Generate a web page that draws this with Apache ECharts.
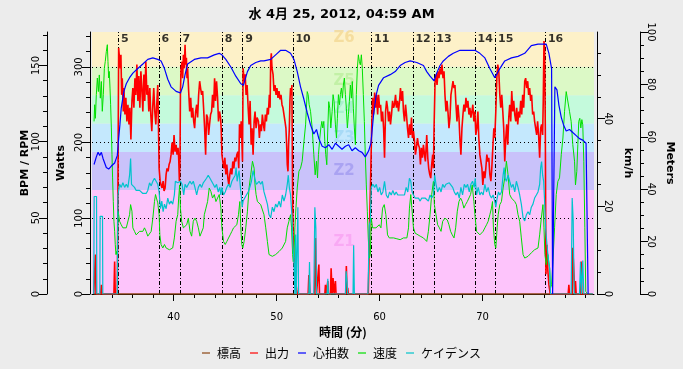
<!DOCTYPE html>
<html><head><meta charset="utf-8">
<script src="https://cdn.jsdelivr.net/npm/echarts@6/dist/echarts.min.js"></script>
<style>html,body{margin:0;padding:0;background:#ececec;}#c{width:683px;height:369px;}</style>
</head><body><div id="c"></div>
<script>
const TITLE = '水 4月 25, 2012, 04:59 AM';
const X_NAME = '時間 (分)';
const X_MIN = 32.06, X_MAX = 80.83;
const X_LABELS = [40, 50, 60, 70];
const X_MINOR = [34,36,38,42,44,46,48,52,54,56,58,62,64,66,68,72,74,76,78,80];
const WATT_MAX = 346, WATT_LABELS = [0,100,200,300];
const WATT_MINOR = [20,40,60,80,120,140,160,180,220,240,260,280,320,340];
const BPM_MAX = 172, BPM_LABELS = [0,50,100,150];
const BPM_MINOR = [10,20,30,40,60,70,80,90,110,120,130,140,160,170];
const KMH_MAX = 59.8, KMH_LABELS = [0,20,40];
const KMH_MINOR = [5,10,15,25,30,35,45,50,55];
const M_MAX = 100, M_LABELS = [0,20,40,60,80,100];
const M_MINOR = [5,10,15,25,30,35,45,50,55,65,70,75,85,90,95];
const GRID_WATTS = [100, 200, 300];
const ZONE_BOUNDS = [0, 137.5, 187.5, 225, 262.5, 300];
const ZONE_NAMES = ['Z1','Z2','Z3','Z4','Z5','Z6'];
const ZONE_FILL = ['#fdc4fb','#c9c2fa','#c4e8fd','#c4fadc','#dcf9c6','#fdf1c8'];
const ZONE_TEXT = ['#f7a2f2','#a29bf0','#a0d6f4','#a0eecb','#bcef9e','#f3d893'];
const LAP_TIMES = [34.64,38.57,40.61,44.71,46.70,51.58,59.22,63.24,65.27,69.27,71.27,76.11];
const LAP_NAMES = ['5','6','7','8','9','10','11','12','13','14','15','16'];
const SERIES_NAMES = ['標高','出力','心拍数','速度','ケイデンス'];
const SERIES_COLORS = ['#8b4513','#ff0000','#0000ff','#00e000','#00c4cc'];

const ALTITUDE = [[32.23,0],[80.71,0]];
const POWER = [[32.23,0],[32.39,52],[32.45,0],[32.90,0],[32.97,12],[33.03,0],[34.19,0],[34.26,43],[34.32,0],[34.52,0],[34.58,140],[34.65,325],[34.74,327],[34.81,298],[34.87,316],[34.94,263],[35.00,285],[35.10,241],[35.16,272],[35.26,237],[35.35,259],[35.45,228],[35.55,250],[35.65,224],[35.74,246],[35.84,204],[35.94,255],[36.03,272],[36.13,246],[36.23,285],[36.32,263],[36.42,303],[36.52,255],[36.61,288],[36.71,246],[36.81,294],[36.90,272],[37.00,241],[37.10,290],[37.19,255],[37.29,307],[37.39,263],[37.48,276],[37.58,241],[37.68,272],[37.77,237],[37.87,215],[37.97,250],[38.06,272],[38.16,241],[38.26,224],[38.35,250],[38.45,276],[38.52,219],[38.58,166],[38.68,149],[38.77,144],[38.87,140],[38.97,149],[39.06,136],[39.16,140],[39.26,158],[39.35,166],[39.45,162],[39.55,171],[39.65,175],[39.74,184],[39.84,200],[39.94,184],[40.03,210],[40.13,188],[40.23,197],[40.32,184],[40.42,193],[40.48,180],[40.55,149],[40.61,175],[40.65,263],[40.71,298],[40.81,307],[40.87,285],[40.94,316],[41.03,298],[41.10,329],[41.16,303],[41.23,312],[41.29,285],[41.35,298],[41.45,268],[41.55,241],[41.65,259],[41.74,233],[41.84,246],[41.94,228],[42.03,219],[42.13,241],[42.23,250],[42.32,233],[42.42,263],[42.52,281],[42.61,272],[42.71,263],[42.81,268],[42.90,246],[43.00,219],[43.10,184],[43.19,237],[43.29,233],[43.39,210],[43.48,224],[43.58,237],[43.68,241],[43.77,263],[43.87,246],[43.97,285],[44.06,255],[44.16,281],[44.26,259],[44.35,228],[44.45,241],[44.55,233],[44.61,219],[44.68,184],[44.77,175],[44.87,166],[44.97,180],[45.06,158],[45.16,171],[45.26,153],[45.35,144],[45.45,158],[45.55,166],[45.65,158],[45.74,175],[45.84,166],[45.94,180],[46.03,175],[46.13,184],[46.23,188],[46.32,166],[46.39,224],[46.48,206],[46.55,228],[46.61,206],[46.68,175],[46.74,298],[46.84,281],[46.94,290],[47.03,263],[47.13,276],[47.23,246],[47.32,224],[47.42,255],[47.52,197],[47.61,219],[47.71,184],[47.81,228],[47.90,241],[48.00,219],[48.10,233],
[48.23,228],[48.32,206],[48.42,224],[48.52,215],[48.61,237],[48.71,224],[48.81,215],[48.90,237],[49.00,228],[49.10,246],[49.19,237],[49.29,263],[49.36,246],[49.42,307],[49.48,318],[49.55,298],[49.65,290],[49.74,268],[49.84,276],[49.94,263],[50.03,272],[50.13,259],[50.23,268],[50.32,257],[50.42,263],[50.52,250],[50.61,246],[50.71,237],[50.81,228],[50.90,219],[50.97,197],[51.03,171],[51.10,162],[51.16,197],[51.23,219],[51.29,255],[51.35,272],[51.42,263],[51.48,276],[51.55,131],[51.61,65],[51.68,48],[51.74,39],[51.84,17],[51.94,6],[52.00,0],[53.06,0],[53.13,25],[53.23,0],[53.68,0],[53.77,74],[53.87,0],[54.03,0],[54.10,39],[54.16,0],[54.68,0],[54.74,12],[54.81,0],[54.90,0],[54.97,17],[55.03,0],[55.23,0],[55.29,34],[55.39,0],[55.48,21],[55.58,0],[55.71,17],[55.77,0],[56.71,0],[56.77,37],[56.84,0],[56.90,8],[56.97,0],[58.90,0],[58.97,43],[59.03,92],[59.13,153],[59.23,219],[59.32,259],[59.42,237],[59.52,266],[59.61,246],[59.71,263],[59.81,237],[59.90,263],[60.00,246],[60.10,250],[60.19,228],[60.29,241],[60.39,219],[60.48,180],[60.58,241],[60.68,255],[60.77,246],[60.87,228],[60.97,241],[61.06,224],[61.16,237],[61.26,255],[61.36,246],[61.45,250],[61.55,263],[61.64,246],[61.74,255],[61.84,241],[61.94,255],[62.03,272],[62.13,255],[62.23,268],[62.32,241],[62.42,228],[62.52,250],[62.61,237],[62.71,219],[62.81,206],[62.90,224],[63.00,210],[63.10,233],[63.19,206],[63.29,215],[63.39,202],[63.48,184],[63.58,193],[63.68,206],[63.77,197],[63.87,193],[63.97,171],[64.06,193],[64.16,180],[64.26,197],[64.36,184],[64.45,175],[64.58,210],
[64.68,180],[64.77,166],[64.87,158],[64.97,153],[65.06,171],[65.16,184],[65.23,166],[65.29,219],[65.39,281],[65.48,290],[65.58,276],[65.68,294],[65.77,285],[65.87,298],[65.97,290],[66.06,303],[66.16,285],[66.26,294],[66.35,263],[66.45,241],[66.55,255],[66.64,241],[66.74,219],[66.84,233],[66.93,263],[67.03,272],[67.13,281],[67.23,272],[67.32,276],[67.42,250],[67.52,228],[67.61,250],[67.71,233],[67.81,202],[67.90,184],[68.00,219],[68.10,237],[68.19,250],[68.29,241],[68.39,259],[68.48,246],[68.58,255],[68.68,237],[68.77,246],[68.87,233],[68.97,241],[69.06,250],[69.16,228],[69.26,241],[69.35,210],[69.45,219],[69.55,241],[69.64,206],[69.74,184],[69.84,175],[69.94,166],[70.03,144],[70.13,162],[70.23,153],[70.32,166],[70.42,184],[70.52,175],[70.61,180],[70.71,158],[70.81,149],[70.90,166],[71.00,193],[71.10,219],[71.19,206],[71.29,241],[71.39,285],[71.48,303],[71.58,294],[71.68,263],[71.77,246],[71.87,263],[71.97,241],[72.06,219],[72.16,175],[72.26,206],[72.35,224],[72.45,197],[72.55,233],[72.64,250],[72.74,228],[72.84,268],[72.94,241],[73.03,255],[73.13,237],[73.23,228],[73.32,246],[73.42,224],[73.52,241],[73.61,233],[73.71,255],[73.81,237],[73.90,263],[74.00,246],[74.10,281],[74.19,285],[74.29,272],[74.39,281],[74.48,263],[74.58,272],[74.68,255],[74.77,263],[74.87,237],[74.97,241],[75.06,228],[75.16,219],[75.26,210],[75.35,228],[75.45,210],[75.55,180],[75.65,219],[75.74,224],[75.84,210],[75.90,255],[75.97,334],[76.03,325],[76.10,219],[76.16,26],[76.26,65],[76.35,30],[76.45,12],[76.58,0],[78.32,0],[78.39,12],[78.45,0],[78.71,0],[78.77,61],[78.87,30],[78.97,0],[79.03,17],[79.10,0],[79.52,0],[79.58,43],[79.65,0],[80.39,0]];
const HEART_RATE = [[32.26,85],[32.48,90],[32.65,93],[32.81,91],[32.97,93],[33.13,89],[33.29,90],[33.45,83],[33.68,82],[33.94,84],[34.26,86],[34.52,91],[34.65,102],[34.77,111],[34.90,122],[35.16,133],[35.39,138],[35.71,142],[36.03,145],[36.51,148],[37.00,151],[37.48,154],[37.97,155],[38.45,154],[38.77,153],[39.10,148],[39.42,141],[39.74,136],[40.23,133],[40.65,132],[40.87,136],[41.10,144],[41.35,151],[42.00,154],[42.65,155],[43.29,155],[43.94,157],[44.42,158],[44.68,157],[45.06,154],[45.55,149],[46.03,143],[46.52,138],[46.77,137],[47.16,146],[47.48,150],[47.97,152],[48.45,153],[48.77,153],[49.42,154],[49.90,157],[50.39,160],[50.87,160],[51.35,158],[51.68,154],[52.00,146],[52.32,136],[52.64,128],[52.97,119],[53.29,111],[53.61,105],[53.87,108],[54.10,102],[54.42,97],[54.74,96],[55.06,98],[55.39,95],[55.71,99],[56.03,97],[56.35,95],[56.68,97],[57.00,98],[57.32,94],[57.64,96],[57.97,94],[58.29,93],[58.61,90],[58.94,94],[59.16,99],[59.42,118],[59.68,131],[59.90,137],[60.39,142],[61.03,144],[61.52,146],[62.00,150],[62.48,152],[62.97,153],[63.61,152],[64.26,150],[64.58,146],[64.90,143],[65.29,140],[65.55,145],[65.87,150],[66.19,153],[66.68,156],[67.16,158],[67.81,160],[68.45,160],[69.26,160],[69.74,158],[70.23,155],[70.71,148],[71.19,142],[71.35,142],[71.68,148],[72.16,153],[72.81,155],[73.45,156],[74.10,158],[74.74,163],[75.39,164],[75.87,164],[76.19,164],[76.45,158],[76.71,148],[76.81,0],[76.94,0],[77.03,136],[77.23,134],[77.42,124],[77.65,116],[77.87,111],[78.13,107],[78.45,108],[78.77,106],[79.10,104],[79.42,102],[79.74,101],[80.06,99],[80.23,99],[80.26,0]];
const SPEED = [[32.26,39.4],[32.32,43.2],[32.39,40.1],[32.48,45.5],[32.58,49.3],[32.68,46.2],[32.77,50.0],[32.87,44.7],[32.97,48.5],[33.06,41.7],[33.16,45.5],[33.26,51.5],[33.35,53.1],[33.45,55.3],[33.55,56.9],[33.61,53.1],[33.68,49.3],[33.74,50.8],[33.81,47.0],[33.87,43.2],[33.94,37.9],[34.00,31.8],[34.06,26.5],[34.13,21.1],[34.19,16.6],[34.26,14.3],[34.32,11.3],[34.39,9.0],[34.45,9.7],[34.52,9.0],[34.58,18.9],[34.65,18.1],[34.74,16.6],[34.90,15.8],[35.06,15.1],[35.23,15.4],[35.39,15.1],[35.55,15.2],[35.71,18.1],[35.81,20.4],[35.94,18.9],[36.03,15.1],[36.19,14.3],[36.35,13.5],[36.52,13.9],[36.68,14.3],[36.84,14.7],[37.00,14.3],[37.16,15.1],[37.32,14.3],[37.48,13.2],[37.65,13.5],[37.81,14.3],[37.97,17.3],[38.13,21.1],[38.23,22.7],[38.32,21.9],[38.45,20.8],[38.58,18.1],[38.65,13.5],[38.77,11.3],[38.94,10.5],[39.10,11.3],[39.26,10.5],[39.42,10.9],[39.58,10.1],[39.74,9.7],[39.90,10.5],[40.06,12.8],[40.23,16.6],[40.39,18.1],[40.48,21.9],[40.58,24.9],[40.65,19.6],[40.77,16.6],[40.94,15.1],[41.10,14.7],[41.26,15.8],[41.42,17.3],[41.58,14.3],[41.74,13.2],[41.90,16.6],[42.06,17.3],[42.23,16.6],[42.39,15.1],[42.55,13.2],[42.71,12.8],[42.87,15.1],[42.97,18.1],[43.13,19.6],[43.29,21.1],[43.45,24.2],[43.61,23.4],[43.77,21.9],[43.94,22.7],[44.10,21.1],[44.26,21.9],[44.42,22.7],[44.58,19.6],[44.68,15.1],[44.84,12.0],[45.00,11.3],[45.16,12.0],[45.32,11.6],[45.48,13.5],[45.65,14.3],[45.81,15.1],[45.97,14.7],[46.13,15.8],[46.29,18.1],[46.42,21.1],[46.52,15.1],[46.61,11.3],[46.71,10.5],[46.84,12.0],[47.00,15.1],[47.16,18.9],[47.32,24.2],[47.48,27.2],[47.65,30.3],[47.81,28.7],[47.90,24.9],[48.00,22.7],[48.13,21.1],
[48.45,20.4],[48.77,18.1],[48.94,15.1],[49.10,12.0],[49.26,9.0],[49.58,8.6],[49.90,9.0],[50.23,9.7],[50.55,10.5],[50.87,12.0],[51.03,15.1],[51.19,16.6],[51.35,18.1],[51.45,15.1],[51.55,9.0],[51.61,7.4],[51.68,8.2],[51.77,15.1],[51.87,19.6],[52.00,24.2],[52.16,28.0],[52.32,28.7],[52.48,30.3],[52.65,34.8],[52.81,38.6],[52.97,46.2],[53.06,45.5],[53.16,43.2],[53.29,41.7],[53.45,37.9],[53.61,31.8],[53.74,27.2],[53.87,30.3],[53.97,26.5],[54.06,31.8],[54.19,35.6],[54.29,37.9],[54.39,39.4],[54.48,37.9],[54.58,39.4],[54.68,34.8],[54.77,31.8],[54.87,29.5],[54.97,37.9],[55.06,43.9],[55.16,42.4],[55.26,37.9],[55.39,41.7],[55.48,45.5],[55.58,43.9],[55.71,38.6],[55.81,35.6],[55.90,40.1],[56.00,45.5],[56.10,43.2],[56.19,45.5],[56.29,47.0],[56.39,44.7],[56.48,47.7],[56.58,49.3],[56.68,45.5],[56.77,42.4],[56.87,37.9],[56.97,40.9],[57.06,43.9],[57.16,47.7],[57.26,44.7],[57.35,48.5],[57.45,42.4],[57.55,37.9],[57.65,34.1],[57.74,45.5],[57.84,51.5],[57.94,54.6],[58.03,53.1],[58.13,52.3],[58.23,54.6],[58.32,51.5],[58.42,45.5],[58.52,39.4],[58.61,31.8],[58.71,24.9],[58.81,18.9],[58.90,12.8],[59.00,8.2],[59.10,9.0],[59.19,17.3],[59.32,15.1],[59.48,14.7],[59.65,15.1],[59.81,14.7],[59.97,15.8],[60.13,15.1],[60.29,19.6],[60.45,20.4],[60.61,18.1],[60.77,13.5],[60.94,12.8],[61.10,12.4],[61.36,12.8],[61.68,12.6],[62.00,12.4],[62.32,12.8],[62.65,12.8],[62.81,15.1],[62.90,19.6],[63.03,22.7],[63.16,18.9],[63.29,15.1],[63.45,13.9],[63.61,13.5],[63.94,13.2],[64.26,12.8],
[64.58,12.0],[64.74,14.3],[64.90,18.1],[65.06,22.7],[65.23,25.7],[65.32,20.4],[65.48,18.1],[65.64,15.8],[65.81,15.1],[65.97,14.3],[66.13,16.6],[66.35,17.3],[66.58,16.9],[66.74,15.8],[66.90,14.3],[67.06,13.5],[67.23,12.8],[67.39,15.1],[67.55,18.9],[67.71,21.1],[67.87,21.9],[68.03,21.1],[68.19,19.6],[68.35,20.4],[68.52,21.1],[68.68,21.1],[68.84,22.7],[69.00,24.9],[69.16,21.1],[69.26,18.1],[69.42,14.3],[69.58,13.9],[69.74,13.5],[69.90,13.2],[70.06,14.3],[70.23,15.1],[70.39,15.8],[70.55,16.6],[70.71,18.1],[70.87,19.6],[70.97,21.1],[71.06,15.1],[71.19,11.3],[71.29,10.5],[71.42,15.1],[71.52,18.1],[71.68,20.4],[71.84,21.1],[72.00,24.2],[72.16,26.5],[72.32,30.3],[72.48,27.2],[72.64,22.7],[72.81,21.9],[72.97,22.3],[73.13,21.1],[73.29,20.4],[73.45,18.1],[73.61,16.6],[73.77,12.8],[73.94,9.0],[74.10,8.2],[74.42,8.6],[74.74,9.4],[75.06,10.1],[75.39,10.5],[75.55,13.5],[75.71,17.3],[75.87,20.4],[75.97,15.1],[76.06,9.0],[76.19,6.7],[76.35,9.0],[76.52,5.9],[76.61,1.4],[76.71,2.1],[76.84,7.4],[77.00,15.1],[77.16,22.7],[77.32,25.7],[77.48,26.5],[77.65,31.8],[77.81,35.6],[77.97,41.7],[78.13,46.2],[78.29,46.2],[78.45,41.7],[78.61,39.4],[78.77,34.1],[78.94,30.3],[79.03,24.9],[79.16,28.0],[79.26,34.1],[79.35,39.4],[79.45,40.1],[79.55,37.9],[79.65,39.8],[79.74,38.6],[79.84,30.3],[79.94,15.1],[80.03,0.6],[80.23,0]];
const CADENCE = [[32.23,0],[32.27,64],[32.50,64],[32.53,0],[32.82,0],[32.85,51],[33.08,51],[33.11,0],[34.52,0],[34.58,65],[34.74,72],[34.90,70],[35.06,73],[35.23,70],[35.39,72],[35.55,70],[35.71,78],[35.81,89],[35.90,72],[36.03,71],[36.19,70],[36.35,68],[36.52,68],[36.68,68],[36.84,67],[37.00,66],[37.16,67],[37.32,66],[37.48,68],[37.65,73],[37.81,71],[37.97,74],[38.13,76],[38.29,74],[38.45,72],[38.58,67],[38.71,56],[38.84,61],[38.97,54],[39.10,59],[39.26,56],[39.42,63],[39.58,59],[39.74,61],[39.90,59],[40.06,65],[40.16,74],[40.26,75],[40.39,73],[40.55,72],[40.65,74],[40.81,72],[40.97,65],[41.10,72],[41.26,70],[41.42,72],[41.58,74],[41.74,72],[41.90,74],[42.06,70],[42.23,65],[42.39,70],[42.55,72],[42.71,70],[42.87,73],[43.03,72],[43.19,76],[43.35,78],[43.52,76],[43.68,74],[43.84,72],[44.00,70],[44.16,72],[44.32,67],[44.48,70],[44.58,65],[44.68,70],[44.84,65],[45.00,67],[45.16,70],[45.32,72],[45.48,70],[45.65,74],[45.81,76],[45.97,78],[46.06,83],[46.16,74],[46.26,78],[46.35,81],[46.45,72],[46.55,65],[46.65,57],[46.74,61],[46.90,63],[47.06,65],[47.23,67],[47.39,70],[47.55,74],[47.71,81],[47.87,76],[48.03,72],[48.29,74],[48.45,72],[48.61,74],[48.77,67],[48.94,63],[49.10,59],[49.26,52],[49.42,50],[49.58,57],[49.74,54],[49.90,59],[50.06,57],[50.23,61],[50.39,57],[50.55,65],[50.71,61],[50.87,65],[51.03,72],[51.13,78],[51.23,70],[51.35,65],[51.48,52],[51.58,32],[51.68,21],[51.77,0],[51.84,39],[51.90,0],[52.00,0],[52.06,57],[52.13,0],[53.13,0],[53.19,21],[53.26,0],[53.61,0],[53.71,57],[53.81,43],[53.87,0],[54.90,0],[54.97,10],[55.03,0],[56.68,0],[56.74,15],[56.84,8],[56.90,0],[57.42,0],[57.48,32],[57.55,0],[58.87,0],[58.94,24],[59.00,45],[59.10,48],[59.19,70],[59.35,72],[59.52,70],[59.68,72],[59.84,67],[60.00,70],[60.16,65],[60.32,67],[60.48,74],[60.65,65],[60.81,63],[60.97,67],[61.13,65],[61.29,68],[61.45,65],[61.61,67],[61.77,65],[61.94,66],[62.10,65],[62.26,66],[62.42,65],[62.58,70],[62.74,67],[62.90,76],[63.03,74],[63.16,67],[63.29,65],[63.45,63],[63.61,62],[63.77,63],[63.94,61],[64.10,63],[64.26,62],[64.42,63],[64.58,63],[64.74,61],[64.90,65],[65.06,63],[65.23,65],[65.35,78],[65.48,72],[65.64,67],[65.81,70],[65.97,67],[66.13,72],[66.29,70],[66.45,72],[66.61,71],[66.77,73],[66.94,72],[67.10,70],[67.26,67],[67.42,65],[67.58,67],[67.74,63],[67.90,70],[68.06,65],[68.23,72],[68.39,70],[68.55,72],[68.71,67],[68.87,72],[69.03,74],[69.19,70],[69.29,76],[69.42,65],[69.58,70],[69.74,65],[69.90,67],[70.06,65],[70.23,72],[70.39,67],[70.55,70],[70.71,65],[70.87,63],[71.03,65],[71.19,61],[71.29,57],[71.42,63],[71.55,67],[71.68,65],[71.84,67],[72.00,78],[72.10,83],[72.19,76],[72.32,74],[72.48,78],[72.64,74],[72.81,70],[72.97,72],[73.13,67],[73.29,74],[73.45,70],[73.61,65],[73.77,59],[73.94,50],[74.10,48],[74.26,52],[74.42,54],[74.58,52],[74.74,57],[74.90,59],[75.06,63],[75.23,65],[75.39,67],[75.55,72],[75.65,83],[75.74,87],[75.84,78],[75.94,74],[76.03,61],[76.13,43],[76.23,35],[76.32,28],[76.42,21],[76.52,17],[76.61,0],[78.61,0],[78.71,63],[78.81,48],[78.90,0],[79.42,0],[79.52,21],[79.61,0],[79.74,22],[79.84,0],[80.71,0]];

const ZONE_LABEL_X = 56.55;
const LAP_LABEL_W = 337;
const FONT = "'DejaVu Sans','Noto Sans CJK JP',sans-serif";
const CJK = "'Noto Sans CJK JP','DejaVu Sans',sans-serif";

function yPair(position, offset, max, labels, minor, rot, name, nameGap) {
  const lab = {fontFamily: FONT, fontSize: 10, color: '#000', rotate: rot, margin: 6};
  return [
    {type:'value', position, offset, min:0, max, name, nameLocation:'middle', nameRotate: rot, nameGap,
     nameMoveOverlap:false,
     nameTextStyle:{fontFamily:FONT, fontSize:11, fontWeight:'bold', color:'#000'},
     axisLine:{show:true, lineStyle:{color:'#000', width:1}},
     axisTick:{show:true, customValues: labels, length:8, lineStyle:{color:'#000'}},
     axisLabel: Object.assign({customValues: labels}, lab),
     splitLine:{show:false}},
    {type:'value', position, offset, min:0, max,
     axisLine:{show:false},
     axisTick:{show:true, customValues: minor, length:4, lineStyle:{color:'#000'}},
     axisLabel:{show:false}, splitLine:{show:false}}
  ];
}

const yAxes = [].concat(
  yPair('left',2,WATT_MAX,WATT_LABELS,WATT_MINOR,90,'Watts',23),
  yPair('left',45,BPM_MAX,BPM_LABELS,BPM_MINOR,90,'BPM / RPM',16),
  yPair('right',3,KMH_MAX,KMH_LABELS,KMH_MINOR,-90,'km/h',25),
  yPair('right',46,M_MAX,M_LABELS,M_MINOR,-90,'Meters',24)
);

const zoneAreas = ZONE_BOUNDS.map((lo, i) => [
  {yAxis: lo, itemStyle:{color: ZONE_FILL[i]}},
  {yAxis: i < ZONE_BOUNDS.length - 1 ? ZONE_BOUNDS[i+1] : WATT_MAX}
]);
const zoneLabelData = ZONE_BOUNDS.map((lo, i) => {
  const hi = i < ZONE_BOUNDS.length - 1 ? ZONE_BOUNDS[i+1] : lo + (lo - ZONE_BOUNDS[i-1]) * 2;
  return {value:[ZONE_LABEL_X, (lo+hi)/2], name: ZONE_NAMES[i],
          label:{color: ZONE_TEXT[i]}};
});
const gridLines = GRID_WATTS.map(v => ({yAxis: v, lineStyle:{type:[1,3], color:'#000', width:1}}));
const lapLines = LAP_TIMES.map(t => ({xAxis: t, lineStyle:{type:[4,2,1,2], color:'#000', width:1}}));

function line(name, data, yIdx, color, width, z) {
  return {name, type:'line', data, xAxisIndex:0, yAxisIndex:yIdx, showSymbol:false, symbol:'none',
          color, lineStyle:{color, width}, z, silent:true, animation:false};
}

const option = {
  backgroundColor:'#ececec',
  animation:false,
  title:{text:TITLE, left:'center', top:3,
         textStyle:{fontFamily:FONT, fontSize:13, fontWeight:'bold', color:'#000'}},
  grid:{left:92, right:87, top:32, bottom:75},
  xAxis:[
    {type:'value', min:X_MIN, max:X_MAX, position:'bottom', offset:5,
     name:X_NAME, nameLocation:'middle', nameGap:27, nameMoveOverlap:false,
     nameTextStyle:{fontFamily:CJK, fontSize:12, fontWeight:'bold', color:'#000'},
     axisLine:{show:true, lineStyle:{color:'#000'}},
     axisTick:{show:true, customValues:X_LABELS, length:7, lineStyle:{color:'#000'}},
     axisLabel:{customValues:X_LABELS, fontFamily:FONT, fontSize:10, color:'#000', margin:13},
     splitLine:{show:false}},
    {type:'value', min:X_MIN, max:X_MAX, position:'bottom', offset:5,
     axisLine:{show:false},
     axisTick:{show:true, customValues:X_MINOR, length:4, lineStyle:{color:'#000'}},
     axisLabel:{show:false}, splitLine:{show:false}}
  ],
  yAxis: yAxes,
  legend:{data:SERIES_NAMES, left:'center', top:342, icon:'rect', itemWidth:8, itemHeight:1.2,
          itemGap:9, textStyle:{fontFamily:CJK, fontSize:12, color:'#000', padding:[0,0,0,2]}},
  series:[
    {type:'line', data:[], xAxisIndex:0, yAxisIndex:0, silent:true, z:0,
     markArea:{silent:true, z:0, data: zoneAreas},
     markLine:{silent:true, z:1, symbol:['none','none'], label:{show:false}, data: gridLines.concat(lapLines)}},
    line(SERIES_NAMES[0], ALTITUDE, 6, SERIES_COLORS[0], 1.5, 2),
    line(SERIES_NAMES[1], POWER, 0, SERIES_COLORS[1], 1.6, 2),
    line(SERIES_NAMES[3], SPEED, 4, SERIES_COLORS[3], 1, 2),
    line(SERIES_NAMES[4], CADENCE, 2, SERIES_COLORS[4], 1.2, 2),
    line(SERIES_NAMES[2], HEART_RATE, 2, SERIES_COLORS[2], 1.2, 2),
    {type:'scatter', data: zoneLabelData, xAxisIndex:0, yAxisIndex:0, symbolSize:1, silent:true, z:1,
     itemStyle:{color:'rgba(0,0,0,0)'},
     label:{show:true, position:'inside', formatter: p => p.name, fontFamily:FONT, fontSize:15, fontWeight:'bold'}},
    {type:'scatter', data: LAP_TIMES.map((t,i) => ({value:[t, LAP_LABEL_W], name: LAP_NAMES[i]})),
     xAxisIndex:0, yAxisIndex:0, symbolSize:1, silent:true, z:5, itemStyle:{color:'rgba(0,0,0,0)'},
     label:{show:true, position:'right', distance:2, formatter: p => p.name, fontFamily:FONT,
            fontSize:11, fontWeight:'bold', color:'#000'}}
  ]
};
echarts.init(document.getElementById('c'), null, {renderer:'canvas'}).setOption(option);
</script></body></html>
